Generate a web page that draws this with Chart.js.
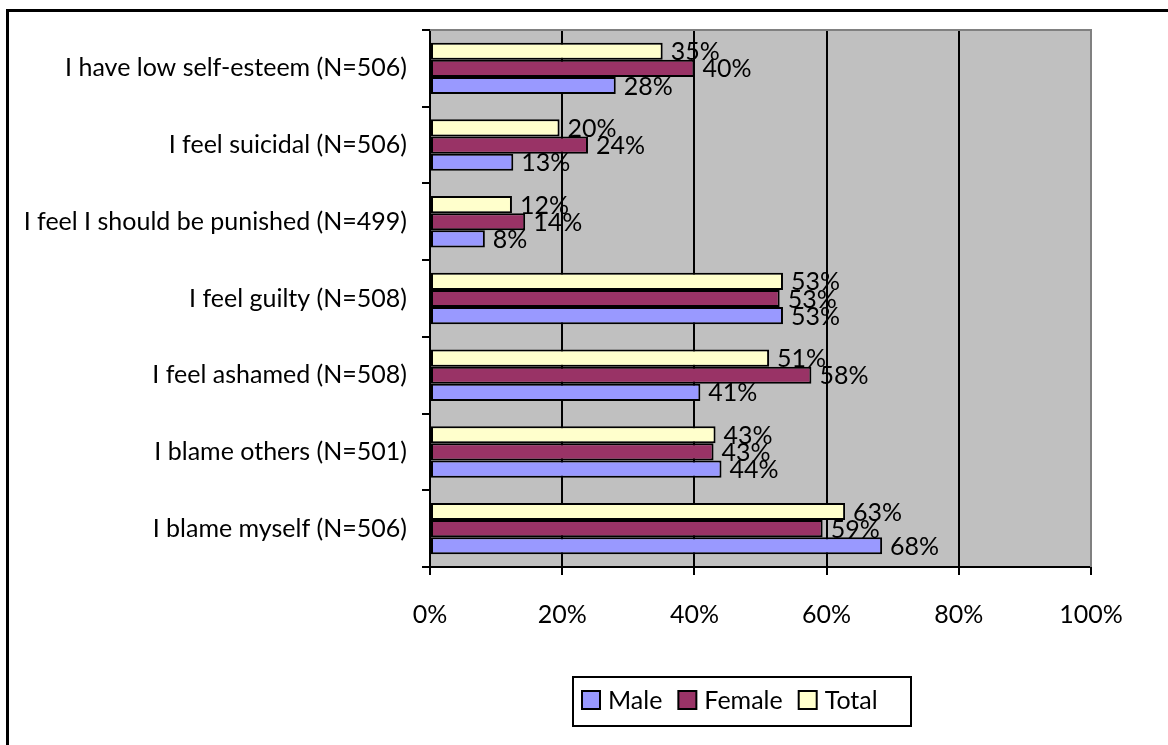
<!DOCTYPE html>
<html>
<head>
<meta charset="utf-8">
<title>Feelings after the experience</title>
<script src="https://cdn.jsdelivr.net/npm/chart.js@4.4.1/dist/chart.umd.min.js"></script>
<style>
  html, body { margin: 0; padding: 0; background: #fff; }
  canvas { display: block; }
</style>
</head>
<body>
<canvas id="myChart" width="1168" height="745"></canvas>
<script>
const labels = [
  'I have low self-esteem (N=506)',
  'I feel suicidal (N=506)',
  'I feel I should be punished (N=499)',
  'I feel guilty (N=508)',
  'I feel ashamed (N=508)',
  'I blame others (N=501)',
  'I blame myself (N=506)'
];
const male = [28.1, 12.6, 8.3, 53.4, 40.9, 44.1, 68.4];
const female = [40.0, 23.9, 14.4, 52.9, 57.7, 42.9, 59.4];
const total = [35.2, 19.6, 12.4, 53.4, 51.3, 43.2, 62.8];
const xTicks = [0, 20, 40, 60, 80, 100];

const FONT = 'Lato, Carlito, "Liberation Sans", sans-serif';
const FONT_SIZE = 25;

// grey plot area and white page
const plotBackground = {
  id: 'plotBackground',
  beforeDraw(chart) {
    const { ctx, chartArea: a } = chart;
    ctx.save();
    ctx.fillStyle = '#fff';
    ctx.fillRect(0, 0, chart.width, chart.height);
    ctx.fillStyle = '#C0C0C0';
    ctx.fillRect(a.left, a.top, a.right - a.left, a.bottom - a.top);
    ctx.restore();
  }
};

// value labels at the end of each bar
const barLabels = {
  id: 'barLabels',
  afterDatasetsDraw(chart) {
    const ctx = chart.ctx;
    ctx.save();
    ctx.font = FONT_SIZE + 'px ' + FONT;
    ctx.fillStyle = '#000';
    ctx.textAlign = 'left';
    ctx.textBaseline = 'middle';
    chart.data.datasets.forEach((ds, i) => {
      chart.getDatasetMeta(i).data.forEach((bar, j) => {
        ctx.fillText(Math.round(ds.data[j]) + '%', bar.x + 8, bar.y + 1);
      });
    });
    ctx.restore();
  }
};

// outer frame, plot border and the boxed legend
const frame = {
  id: 'frame',
  afterDraw(chart) {
    const { ctx, chartArea: a } = chart;
    ctx.save();
    ctx.strokeStyle = '#808080';
    ctx.lineWidth = 2;
    ctx.beginPath();
    ctx.moveTo(a.left, a.top);
    ctx.lineTo(a.right, a.top);
    ctx.lineTo(a.right, a.bottom);
    ctx.stroke();

    ctx.strokeStyle = '#000';
    ctx.lineWidth = 3;
    ctx.beginPath();
    ctx.moveTo(7.5, chart.height);
    ctx.lineTo(7.5, 10.5);
    ctx.lineTo(chart.width, 10.5);
    ctx.stroke();

    // legend
    ctx.lineWidth = 2;
    ctx.fillStyle = '#fff';
    ctx.fillRect(573, 677, 338, 49);
    ctx.strokeRect(573, 677, 338, 49);
    ctx.font = FONT_SIZE + 'px ' + FONT;
    ctx.textBaseline = 'middle';
    let x = 582;
    const y = 700;
    chart.data.datasets.slice().reverse().forEach(ds => {
      ctx.fillStyle = ds.backgroundColor;
      ctx.fillRect(x, y - 9, 18, 18);
      ctx.strokeRect(x, y - 9, 18, 18);
      ctx.fillStyle = '#000';
      ctx.fillText(ds.label, x + 26, y + 1);
      x += 26 + ctx.measureText(ds.label).width + 16;
    });
    ctx.restore();
  }
};

const ctx1 = document.getElementById('myChart').getContext('2d');
const myChart = new Chart(ctx1, {
  type: 'bar',
  data: {
    labels: labels,
    datasets: [
      { label: 'Total', data: total, backgroundColor: '#FFFFCC' },
      { label: 'Female', data: female, backgroundColor: '#993366' },
      { label: 'Male', data: male, backgroundColor: '#9999FF' }
    ]
  },
  options: {
    indexAxis: 'y',
    responsive: false,
    animation: false,
    layout: { padding: { top: 25, right: 77, left: 0, bottom: 0 } },
    datasets: {
      bar: {
        borderColor: '#000',
        borderWidth: 2,
        borderSkipped: false,
        barPercentage: 1,
        categoryPercentage: 0.67
      }
    },
    scales: {
      x: {
        min: 0,
        max: 100,
        afterBuildTicks: s => { s.ticks = xTicks.map(v => ({ value: v })); },
        afterFit: s => { s.height = 178; },
        grid: {
          color: c => (c.tick && c.tick.value === 100 ? '#808080' : '#000'),
          tickColor: '#000',
          lineWidth: 2,
          tickLength: 8
        },
        border: { color: '#000', width: 2, z: 1 },
        ticks: {
          color: '#000',
          font: { family: FONT, size: FONT_SIZE },
          padding: 25,
          callback: v => v + '%'
        }
      },
      y: {
        afterFit: s => { s.width = 430; },
        grid: {
          drawOnChartArea: false,
          color: '#000',
          lineWidth: 2,
          tickLength: 8
        },
        border: { color: '#000', width: 2, z: 1 },
        ticks: {
          color: '#000',
          font: { family: FONT, size: FONT_SIZE },
          padding: 15
        }
      }
    },
    plugins: {
      legend: { display: false },
      tooltip: { enabled: false }
    }
  },
  plugins: [plotBackground, barLabels, frame]
});
</script>
</body>
</html>
